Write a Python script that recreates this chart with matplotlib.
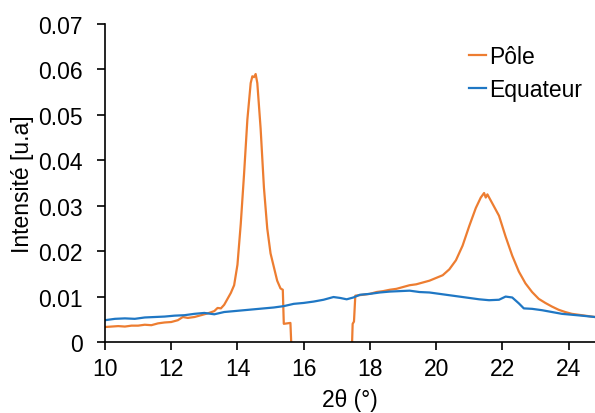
import matplotlib.pyplot as plt

plt.rcParams['font.family'] = ['Liberation Sans', 'DejaVu Sans']

# Pôle (orange)
pole_x = [10.0, 10.2, 10.4, 10.6, 10.8, 11.0, 11.2, 11.4, 11.6, 11.8, 12.0, 12.2,
          12.35, 12.5, 12.7, 12.9, 13.1, 13.3, 13.4, 13.5, 13.6, 13.7, 13.8, 13.9,
          14.0, 14.1, 14.2, 14.3, 14.4, 14.45, 14.5, 14.55, 14.6, 14.7, 14.8, 14.9,
          15.0, 15.1, 15.2, 15.3, 15.37, 15.4, 15.6, 15.68, 17.42, 17.48, 17.52,
          17.56, 17.8, 18.0, 18.2, 18.4, 18.6, 18.8, 19.0, 19.2, 19.4, 19.6, 19.8,
          20.0, 20.2, 20.4, 20.6, 20.8, 21.0, 21.2, 21.35, 21.45, 21.5, 21.55, 21.7,
          21.9, 22.1, 22.3, 22.5, 22.7, 22.9, 23.1, 23.3, 23.5, 23.7, 23.9, 24.1,
          24.3, 24.5, 24.8]
pole_y = [0.0033, 0.0034, 0.0035, 0.0034, 0.0036, 0.0036, 0.0038, 0.0037, 0.0041,
          0.0043, 0.0044, 0.0048, 0.0055, 0.0053, 0.0055, 0.0059, 0.0063, 0.0068,
          0.0075, 0.0074, 0.0082, 0.0095, 0.0108, 0.0125, 0.017, 0.026, 0.037,
          0.049, 0.057, 0.0585, 0.0583, 0.059, 0.057, 0.047, 0.034, 0.025, 0.0195,
          0.0165, 0.0135, 0.0118, 0.0115, 0.004, 0.0042, -0.01, -0.01, 0.004,
          0.0045, 0.0102, 0.0104, 0.0106, 0.011, 0.0112, 0.0115, 0.0117, 0.0121,
          0.0125, 0.0127, 0.0131, 0.0135, 0.0141, 0.0147, 0.016, 0.018, 0.0212,
          0.0255, 0.0295, 0.0318, 0.0328, 0.0318, 0.0325, 0.0305, 0.0278, 0.0232,
          0.019, 0.0155, 0.0129, 0.011, 0.0095, 0.0086, 0.0078, 0.0071, 0.0066,
          0.0062, 0.006, 0.0058, 0.0055]

# Equateur (blue)
equ_x = [10.0, 10.3, 10.6, 10.9, 11.2, 11.5, 11.8, 12.1, 12.4, 12.7, 13.0, 13.3,
         13.6, 13.9, 14.2, 14.5, 14.8, 15.1, 15.4, 15.7, 16.0, 16.3, 16.6, 16.9,
         17.1, 17.3, 17.5, 17.7, 18.0, 18.3, 18.6, 18.9, 19.2, 19.5, 19.8, 20.1,
         20.4, 20.7, 21.0, 21.3, 21.6, 21.9, 22.1, 22.3, 22.5, 22.65, 22.9, 23.2,
         23.5, 23.8, 24.1, 24.4, 24.8]
equ_y = [0.0048, 0.0051, 0.0052, 0.0051, 0.0054, 0.0055, 0.0056, 0.0058, 0.0059,
         0.0062, 0.0064, 0.0061, 0.0066, 0.0068, 0.007, 0.0072, 0.0074, 0.0076,
         0.0079, 0.0084, 0.0086, 0.0089, 0.0093, 0.0099, 0.0097, 0.0094, 0.0098,
         0.0104, 0.0106, 0.0109, 0.0111, 0.0112, 0.0113, 0.011, 0.0109, 0.0106,
         0.0103, 0.01, 0.0097, 0.0094, 0.0092, 0.0093, 0.01, 0.0098, 0.0085,
         0.0074, 0.0073, 0.007, 0.0066, 0.0062, 0.006, 0.0058, 0.0055]

x_ticks = [10, 12, 14, 16, 18, 20, 22, 24]
y_ticks = [0, 0.01, 0.02, 0.03, 0.04, 0.05, 0.06, 0.07]

fig = plt.figure(figsize=(5.95, 4.14), dpi=100)
ax = fig.add_axes([0.1765, 0.1715, 0.8235, 0.768])

ax.plot(pole_x, pole_y, color='#ED7D31', lw=1.6, label='Pôle')
ax.plot(equ_x, equ_y, color='#1F77C4', lw=1.6, label='Equateur')

ax.set_xlim(10, 24.8)
ax.set_ylim(0, 0.07)
ax.set_xticks(x_ticks)
ax.set_yticks(y_ticks)
ax.set_yticklabels(['0' if v == 0 else f'{v:.2f}' for v in y_ticks])

for side in ['top', 'right']:
    ax.spines[side].set_visible(False)
for side in ['left', 'bottom']:
    ax.spines[side].set_linewidth(1.2)

ax.tick_params(axis='both', direction='out', length=6, width=1.2, labelsize=16.5)
ax.tick_params(axis='y', pad=10)
ax.tick_params(axis='x', pad=5)

ax.set_xlabel('2θ (°)', fontsize=16.5)
ax.set_ylabel('Intensité [u.a]', fontsize=16.5)
ax.yaxis.set_label_coords(-0.145, 0.5)
ax.xaxis.set_label_coords(0.5, -0.145)

ax.legend(loc='upper right', bbox_to_anchor=(1.015, 1.0), frameon=False,
          fontsize=16.5, handlelength=0.75, handletextpad=0.1, labelspacing=0.45)

fig.savefig('out.png', dpi=100)
